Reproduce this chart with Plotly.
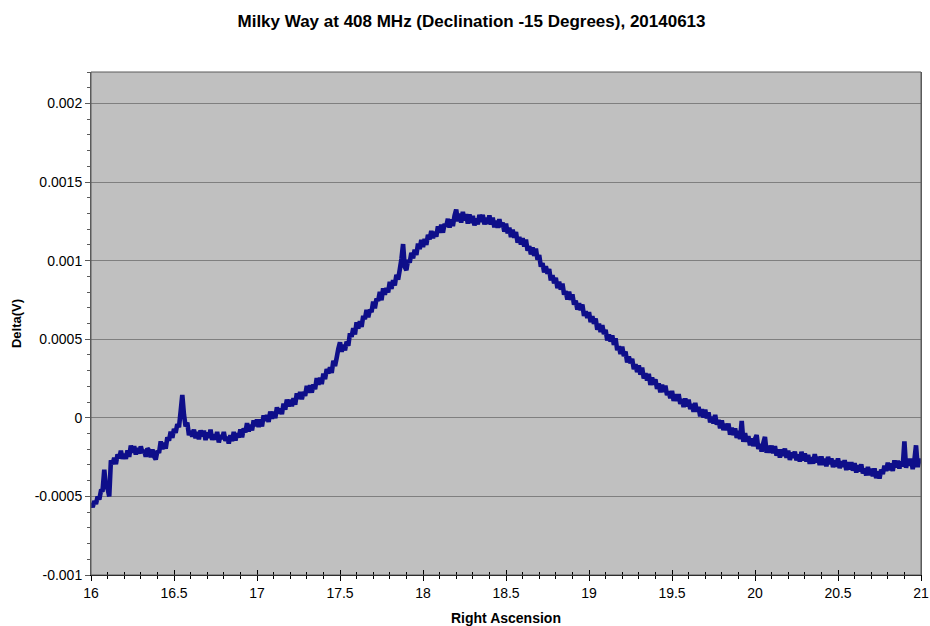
import plotly.graph_objects as go

# Right ascension (hours), sampled every 0.01 h from 16.00 to 21.00
ra_start, ra_step = 16.0, 0.01

# Detector output difference in microvolts, one row per 0.1 h
delta_uv = [
    -540, -568, -530, -548, -500, -520, -465, -460, -330, -440,   # 16.0
    -450, -500, -270, -295, -255, -295, -233, -258, -210, -260,   # 16.1
    -230, -260, -207, -248, -177, -222, -180, -233, -192, -227,   # 16.2
    -182, -223, -205, -248, -195, -208, -251, -202, -245, -265,   # 16.3
    -210, -223, -150, -199, -159, -196, -124, -145, -88, -128,    # 16.4
    -70, -95, -40, -60, 40, 145, 20, -55, -30, -110,              # 16.5
    -83, -120, -75, -130, -90, -137, -80, -118, -82, -142,        # 16.6
    -93, -127, -75, -140, -105, -138, -90, -157, -110, -134,      # 16.7
    -90, -147, -122, -163, -110, -148, -90, -144, -98, -125,      # 16.8
    -74, -124, -67, -93, -34, -86, -45, -80, -17, -52,            # 16.9
    -11, -58, -10, -55, 15, -20, 17, -26, 40, -6,                 # 17.0
    38, -2, 67, 28, 58, 24, 91, 52, 116, 72,                      # 17.1
    115, 74, 124, 84, 155, 120, 164, 118, 165, 140,               # 17.2
    204, 160, 207, 160, 212, 182, 253, 211, 255, 215,             # 17.3
    281, 246, 310, 282, 321, 286, 363, 330, 382, 440,             # 17.4
    480, 420, 465, 430, 485, 458, 538, 516, 571, 530,             # 17.5
    607, 568, 614, 578, 649, 628, 686, 639, 688, 673,             # 17.6
    740, 697, 758, 744, 801, 748, 824, 784, 825, 798,             # 17.7
    865, 820, 876, 842, 910, 880, 942, 1010, 1105, 960,           # 17.8
    940, 1004, 988, 1050, 1014, 1069, 1036, 1108, 1074, 1132,     # 17.9
    1086, 1138, 1100, 1164, 1135, 1189, 1143, 1184, 1152, 1218,   # 18.0
    1177, 1228, 1178, 1234, 1217, 1266, 1211, 1262, 1220, 1286,   # 18.1
    1325, 1250, 1299, 1242, 1310, 1256, 1295, 1236, 1294, 1240,   # 18.2
    1285, 1224, 1268, 1230, 1291, 1246, 1291, 1230, 1272, 1234,   # 18.3
    1287, 1230, 1273, 1212, 1254, 1209, 1264, 1213, 1242, 1184,   # 18.4
    1235, 1174, 1210, 1150, 1196, 1146, 1182, 1114, 1151, 1103,   # 18.5
    1143, 1090, 1134, 1064, 1092, 1040, 1084, 1030, 1076, 1006,   # 18.6
    1035, 962, 984, 925, 964, 916, 947, 874, 908, 856,            # 18.7
    891, 825, 865, 816, 854, 784, 805, 753, 803, 751,             # 18.8
    785, 720, 746, 688, 729, 685, 721, 649, 677, 635,             # 18.9
    673, 609, 647, 598, 632, 560, 598, 546, 589, 533,             # 19.0
    559, 493, 529, 485, 525, 464, 506, 430, 455, 406,             # 19.1
    452, 392, 421, 352, 390, 348, 375, 309, 341, 291,             # 19.2
    333, 275, 319, 250, 284, 238, 280, 209, 256, 212,             # 19.3
    245, 184, 218, 162, 211, 164, 204, 144, 168, 124,             # 19.4
    171, 108, 150, 108, 150, 88, 119, 68, 123, 72,                # 19.5
    115, 56, 88, 38, 94, 40, 69, 10, 55, 2,                       # 19.6
    52, -4, 34, -29, 7, -36, 18, -44, -14, -66,                   # 19.7
    -17, -78, -38, -78, -36, -108, -63, -110, -68, -128,          # 19.8
    -84, -135, -20, -153, -98, -151, -116, -175, -132, -180,      # 19.9
    -135, -110, -199, -166, -215, -160, -122, -222, -178, -222,   # 20.0
    -177, -226, -180, -241, -202, -252, -201, -242, -196, -254,   # 20.1
    -209, -268, -220, -254, -215, -270, -234, -278, -216, -272,   # 20.2
    -226, -278, -236, -292, -251, -291, -232, -284, -248, -300,   # 20.3
    -245, -299, -260, -308, -248, -294, -258, -314, -270, -310,   # 20.4
    -258, -320, -276, -312, -270, -332, -283, -328, -282, -336,   # 20.5
    -289, -348, -302, -340, -296, -354, -323, -366, -312, -365,   # 20.6
    -324, -372, -322, -384, -341, -386, -330, -357, -304, -338,   # 20.7
    -285, -334, -290, -338, -271, -316, -273, -322, -278, -310,   # 20.8
    -150, -318, -260, -305, -260, -326, -272, -175, -313, -262,   # 20.9
    -290,                                                         # 21.0
]

ra_hours = [round(ra_start + i * ra_step, 2) for i in range(len(delta_uv))]
delta_v = [v * 1e-6 for v in delta_uv]

x_ticks = [16, 16.5, 17, 17.5, 18, 18.5, 19, 19.5, 20, 20.5, 21]
y_ticks = [-0.001, -0.0005, 0, 0.0005, 0.001, 0.0015, 0.002]
y_labels = ["-0.001", "-0.0005", "0", "0.0005", "0.001", "0.0015", "0.002"]

font_family = "Liberation Sans, Arial, sans-serif"
axis_grey = "#5a5a5a"

fig = go.Figure()
fig.add_trace(go.Scatter(
    x=ra_hours, y=delta_v, mode="lines",
    line=dict(color="#0e0e8a", width=4.6, simplify=False),
    showlegend=False, hoverinfo="skip",
))
# Invisible companion trace so the mirrored x-axis (inside ticks) is drawn
fig.add_trace(go.Scatter(
    x=[ra_hours[0], ra_hours[-1]], y=[None, None], xaxis="x2",
    mode="lines", showlegend=False, hoverinfo="skip",
))

fig.update_layout(
    width=930, height=626,
    margin=dict(l=91, r=9, t=72, b=51, autoexpand=False),
    paper_bgcolor="white",
    plot_bgcolor="#c0c0c0",
    font=dict(family=font_family, size=14, color="#000000"),
    title=dict(
        text="<b>Milky Way at 408 MHz (Declination -15 Degrees), 20140613</b>",
        x=0.507, xref="container", xanchor="center",
        y=0.967, yref="container", yanchor="middle",
        font=dict(size=17, family=font_family),
    ),
    xaxis=dict(
        range=[16, 21], tickvals=x_ticks,
        ticktext=[f"{t:g}" for t in x_ticks],
        ticks="outside", ticklen=5, tickcolor="#000000", tickwidth=1,
        minor=dict(dtick=0.1, ticks="outside", ticklen=3, tickcolor="#000000"),
        showgrid=False, zeroline=False,
        showline=True, linecolor="#000000", linewidth=1,
        tickfont=dict(size=14), automargin=False,
    ),
    xaxis2=dict(
        range=[16, 21], overlaying="x", side="bottom", anchor="y",
        tickvals=x_ticks, showticklabels=False,
        ticks="inside", ticklen=5, tickcolor="#000000",
        minor=dict(dtick=0.1, ticks="inside", ticklen=3, tickcolor="#000000"),
        showgrid=False, zeroline=False, showline=False,
    ),
    yaxis=dict(
        range=[-0.001, 0.0022], tickvals=y_ticks, ticktext=y_labels,
        ticks="outside", ticklen=5, tickcolor=axis_grey,
        minor=dict(dtick=0.0001, ticks="outside", ticklen=3, tickcolor=axis_grey),
        showgrid=True, gridcolor="#7f7f7f", gridwidth=1.2,
        zeroline=False,
        showline=True, linecolor=axis_grey, linewidth=1, mirror=True,
        tickfont=dict(size=14), automargin=False,
        title=dict(text="<b>Delta(V)</b>", font=dict(size=13), standoff=10),
    ),
    annotations=[dict(
        text="<b>Right Ascension</b>", xref="paper", yref="paper",
        x=0.5, y=0, yshift=-43, xanchor="center", yanchor="middle",
        showarrow=False, font=dict(size=14),
    )],
)

# Grey frame around the plotting area
fig.add_shape(type="rect", xref="paper", yref="paper", x0=0, y0=0, x1=1, y1=1,
              line=dict(color=axis_grey, width=1), fillcolor="rgba(0,0,0,0)", layer="above")

fig.write_html("out.html")
